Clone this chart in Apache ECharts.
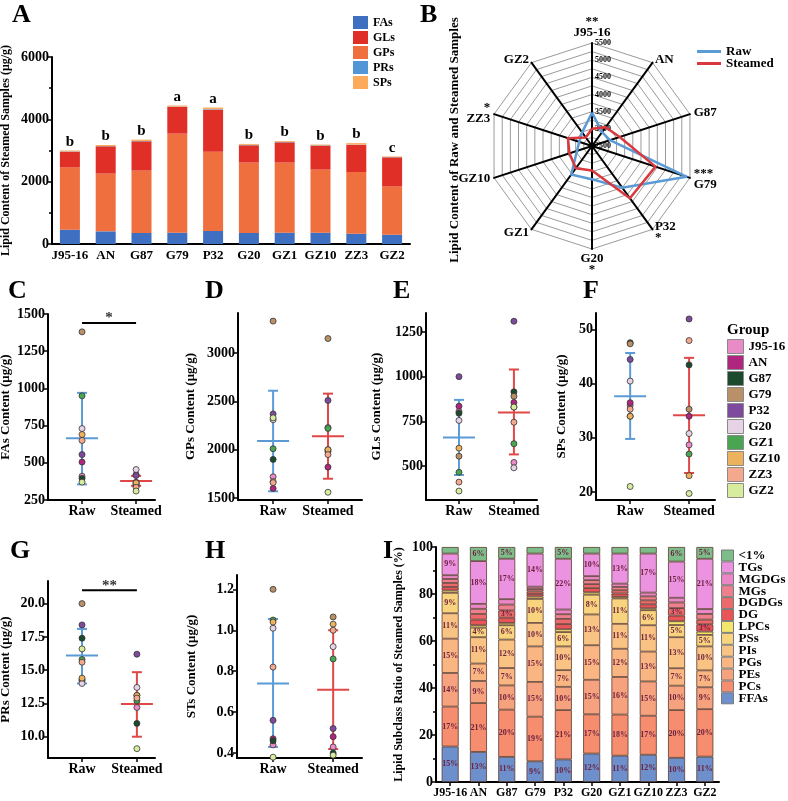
<!DOCTYPE html>
<html>
<head>
<meta charset="utf-8">
<title>Lipid content</title>
<script src="https://cdn.jsdelivr.net/npm/echarts@6/dist/echarts.min.js"></script>
<style>
  html, body { margin: 0; height: 100%; background: #fff; }
  #main { width: 788px; height: 801px; }
</style>
</head>
<body>
<div id="main"></div>
<script>
// ---- shared
var samples = ['J95-16', 'AN', 'G87', 'G79', 'P32', 'G20', 'GZ1', 'GZ10', 'ZZ3', 'GZ2'];
var groupColors = ['#E98BC6', '#B0267E', '#1C4A2C', '#B99068', '#7E4A9E', '#E6D3E6', '#4AA552', '#EDB25E', '#F4A98F', '#D8EC9E'];

// ---- A: steamed lipid content (ug/g)
var steamedFAs = [460, 406, 353, 364, 417, 353, 364, 364, 332, 300];
var steamedGPs = [2000, 1851, 2000, 3176, 2546, 2257, 2246, 2021, 1978, 1550];
var steamedGLs = [500, 877, 941, 856, 1347, 556, 652, 770, 866, 930];
var steamedPRs = [12, 8, 11, 13, 16, 14, 13, 13, 13, 9];
var steamedSPs = [29, 34, 44, 35, 52, 31, 27, 23, 48, 20];
var sigLetters = ['b', 'b', 'b', 'a', 'a', 'b', 'b', 'b', 'b', 'c'];

// ---- B: radar, raw totals
var rawTotal = [3470, 3000, 3050, 5390, 4000, 3470, 3530, 2960, 2890, 2990];
var radarLabels = ['**\nJ95-16', 'AN', 'G87', '***\nG79', 'P32\n*', 'G20\n*', 'GZ1', 'GZ10', '*\nZZ3', 'GZ2'];
var radarOrder = [0, 9, 8, 7, 6, 5, 4, 3, 2, 1];

// ---- C..H: per sample raw / steamed, stats = [mean, low, high]
var fasRaw = [410, 505, 395, 1380, 555, 730, 950, 690, 650, 370];
var fasSteamed = [370, 420, 355, 345, 415, 455, 360, 365, 335, 310];
var fasStats = [[665, 355, 970], [378, 345, 412]];
var fasTicks = [250, 500, 750, 1000, 1250, 1500];
var fasSig = [1440, '*'];

var gpsRaw = [1720, 1600, 1900, 3330, 2370, 2310, 2010, 1670, 1660, 2330];
var gpsSteamed = [2000, 1820, 1980, 3150, 2510, 2230, 2220, 2000, 1950, 1560];
var gpsStats = [[2090, 1570, 2610], [2140, 1700, 2580]];
var gpsTicks = [1500, 2000, 2500, 3000];

var glsRaw = [805, 835, 795, 555, 1000, 755, 465, 600, 410, 360];
var glsSteamed = [520, 855, 915, 890, 1310, 490, 625, 830, 745, 830];
var glsStats = [[660, 450, 870], [800, 565, 1040]];
var glsTicks = [500, 750, 1000, 1250];

var spsRaw = [36.0, 36.5, 47.6, 47.4, 44.5, 40.5, 34.0, 34.0, 35.3, 21.0];
var spsSteamed = [28.7, 34.0, 43.5, 35.3, 52.0, 30.8, 27.0, 23.0, 48.0, 19.7];
var spsStats = [[37.7, 29.8, 45.7], [34.2, 23.5, 44.8]];
var spsTicks = [20, 30, 40, 50];

var prsRaw = [14.2, 14.3, 17.4, 20.0, 18.4, 14.0, 15.8, 14.4, 15.6, 16.6];
var prsSteamed = [12.2, 8.3, 11.0, 13.1, 16.2, 13.7, 12.7, 13.1, 12.9, 9.1];
var prsStats = [[16.1, 14.0, 18.1], [12.45, 10.0, 14.85]];
var prsTicks = [10, 12.5, 15, 17.5, 20];
var prsSig = [21.0, '**'];

var stsRaw = [0.44, 0.47, 0.46, 1.20, 0.56, 1.01, 1.05, 1.04, 0.82, 0.38];
var stsSteamed = [0.43, 0.48, 0.40, 1.065, 0.52, 0.92, 0.86, 1.03, 1.00, 0.39];
var stsStats = [[0.74, 0.43, 1.055], [0.71, 0.42, 1.0]];
var stsTicks = [0.4, 0.6, 0.8, 1.0, 1.2];

// ---- I: subclass ratio (%) of steamed samples
var subclassNames = ['FFAs', 'PCs', 'PEs', 'PGs', 'PIs', 'PSs', 'LPCs', 'DG', 'DGDGs', 'MGs', 'MGDGs', 'TGs', '<1%'];
var subclassColors = ['#6D8FCB', '#F58D6E', '#F7A27E', '#F9B683', '#F9C483', '#F8D47E', '#F4E56C', '#E95459', '#EC6A6C', '#EE7F8F', '#EB87C6', '#EB93E0', '#7DBD8A'];
var ratioFFAs = [15.1, 12.8, 10.7, 8.8, 9.6, 12.1, 11.2, 11.6, 10.3, 10.8];
var ratioPCs = [17.0, 20.8, 20.1, 19.0, 21.0, 16.7, 17.5, 16.6, 20.3, 20.2];
var ratioPEs = [14.3, 9.4, 10.3, 14.8, 9.9, 14.7, 16.0, 14.6, 10.4, 9.3];
var ratioPGs = [14.6, 7.4, 7.4, 15.1, 7.1, 14.7, 12.0, 12.7, 7.4, 7.2];
var ratioPIs = [10.8, 11.2, 12.1, 10.0, 10.1, 13.1, 10.6, 11.2, 13.2, 10.2];
var ratioPSs = [8.7, 4.1, 6.1, 10.2, 6.1, 8.4, 10.8, 6.4, 5.2, 4.9];
var ratioLPCs = [1.0, 1.0, 1.0, 1.0, 1.2, 1.0, 0.7, 0.8, 1.6, 1.4];
var ratioDG = [1.5, 2.4, 2.2, 1.1, 2.2, 1.8, 1.4, 1.7, 2.4, 3.1];
var ratioDGDGs = [1.7, 2.4, 3.1, 1.1, 2.2, 1.7, 1.4, 1.7, 3.2, 2.0];
var ratioMGs = [1.7, 2.2, 2.5, 1.0, 2.0, 1.7, 1.4, 1.7, 2.4, 2.4];
var ratioMGDGs = [1.6, 2.1, 2.3, 1.0, 2.0, 1.7, 1.4, 1.6, 2.0, 2.1];
var ratioTGs = [9.2, 18.2, 17.2, 14.1, 21.6, 9.6, 12.8, 16.6, 15.4, 21.4];
var ratioOther = [2.8, 6.0, 5.0, 2.8, 5.0, 2.8, 2.8, 2.8, 6.2, 5.0];
var ratios = [ratioFFAs, ratioPCs, ratioPEs, ratioPGs, ratioPIs, ratioPSs, ratioLPCs, ratioDG, ratioDGDGs, ratioMGs, ratioMGDGs, ratioTGs, ratioOther];

var FONT = 'Liberation Serif';
var RAW_C = '#5B9BD5', ST_C = '#E04848';
function txt(size, extra) {
	var s = {fontFamily: FONT, fontWeight: 'bold', fontSize: size, color: '#000'};
	for (var k in extra) s[k] = extra[k];
	return s;
}
function plain(v) { return String(v); }

var grids = [], xAxes = [], yAxes = [], series = [];

// ---------- A
grids.push({left: 52, top: 57, width: 358, height: 187, outerBoundsMode: 'none'});
xAxes.push({
	gridIndex: 0, type: 'category', data: samples,
	axisLine: {onZero: false, lineStyle: {color: '#000', width: 2}},
	axisTick: {show: false},
	axisLabel: txt(13, {interval: 0, margin: 5})
});
yAxes.push({
	gridIndex: 0, type: 'value', min: 0, max: 6000, interval: 2000,
	name: 'Lipid Content of Steamed Samples (μg/g)', nameLocation: 'middle', nameGap: 40,
	nameTextStyle: txt(12),
	axisLine: {show: true, onZero: false, lineStyle: {color: '#000', width: 2}},
	axisTick: {show: true, length: 5, lineStyle: {color: '#000', width: 1.5}},
	minorTick: {show: true, splitNumber: 2, length: 3, lineStyle: {color: '#000', width: 1.5}},
	splitLine: {show: false},
	axisLabel: txt(14, {margin: 3, formatter: plain})
});
var aSeries = [
	['FAs', steamedFAs, '#3F6FC0'],
	['GPs', steamedGPs, '#EF6F3F'],
	['GLs', steamedGLs, '#E02F26'],
	['PRs', steamedPRs, '#5296D5'],
	['SPs', steamedSPs, '#FDAA5B']
];
aSeries.forEach(function (d, i) {
	var s = {
		name: d[0], type: 'bar', stack: 'A', xAxisIndex: 0, yAxisIndex: 0,
		data: d[1], barWidth: 20, itemStyle: {color: d[2]}
	};
	if (i === aSeries.length - 1) {
		s.label = {show: true, position: 'top', distance: 1,
			formatter: function (p) { return sigLetters[p.dataIndex]; },
			fontFamily: FONT, fontWeight: 'bold', fontSize: 15, color: '#000'};
	}
	series.push(s);
});

// ---------- C..H dot plots
function meanSdItem(params, api) {
	var x = api.value(0);
	var c = api.coord([x, api.value(1)]);
	var lo = api.coord([x, api.value(2)]);
	var hi = api.coord([x, api.value(3)]);
	var st = {stroke: api.visual('color'), lineWidth: 2};
	return {type: 'group', children: [
		{type: 'line', shape: {x1: c[0] - 16, y1: c[1], x2: c[0] + 16, y2: c[1]}, style: st},
		{type: 'line', shape: {x1: c[0], y1: lo[1], x2: c[0], y2: hi[1]}, style: st},
		{type: 'line', shape: {x1: c[0] - 5, y1: lo[1], x2: c[0] + 5, y2: lo[1]}, style: st},
		{type: 'line', shape: {x1: c[0] - 5, y1: hi[1], x2: c[0] + 5, y2: hi[1]}, style: st}
	]};
}
function sigRenderer(label) {
	return function (params, api) {
		var a = api.coord([0, api.value(1)]);
		var b = api.coord([1, api.value(1)]);
		return {type: 'group', children: [
			{type: 'line', shape: {x1: a[0], y1: a[1], x2: b[0], y2: b[1]}, style: {stroke: '#000', lineWidth: 2}},
			{type: 'text', x: (a[0] + b[0]) / 2, y: a[1] + 3,
				style: {text: label, fill: '#333', font: 'bold 15px ' + FONT, textAlign: 'center', textVerticalAlign: 'bottom'}}
		]};
	};
}

var dotPanels = [
	{title: 'FAs Content (μg/g)', raw: fasRaw, st: fasSteamed, stats: fasStats, ticks: fasTicks, sig: fasSig, dec: 0,
		grid: {left: 48, top: 314, width: 107, height: 186}, y: [250, 1500], x: [-0.63, 1.35], gap: 36},
	{title: 'GPs Content (μg/g)', raw: gpsRaw, st: gpsSteamed, stats: gpsStats, ticks: gpsTicks, dec: 0,
		grid: {left: 238, top: 313, width: 124, height: 187}, y: [1480, 3414], x: [-0.64, 1.62], gap: 41},
	{title: 'GLs Content (μg/g)', raw: glsRaw, st: glsSteamed, stats: glsStats, ticks: glsTicks, dec: 0,
		grid: {left: 426, top: 313, width: 111, height: 187}, y: [310, 1356], x: [-0.6, 1.42], gap: 43},
	{title: 'SPs Content (μg/g)', raw: spsRaw, st: spsSteamed, stats: spsStats, ticks: spsTicks, dec: 0,
		grid: {left: 596, top: 313, width: 119, height: 187}, y: [18.5, 53.1], x: [-0.58, 1.44], gap: 28},
	{title: 'PRs Content (μg/g)', raw: prsRaw, st: prsSteamed, stats: prsStats, ticks: prsTicks, sig: prsSig, dec: 1,
		grid: {left: 48, top: 581, width: 107, height: 177}, y: [8.4, 21.7], x: [-0.62, 1.33], gap: 36},
	{title: 'STs Content (μg/g)', raw: stsRaw, st: stsSteamed, stats: stsStats, ticks: stsTicks, dec: 1,
		grid: {left: 237, top: 575, width: 125, height: 183}, y: [0.376, 1.27], x: [-0.6, 1.48], gap: 39}
];

dotPanels.forEach(function (p) {
	var gi = grids.length;
	var g = p.grid; g.outerBoundsMode = 'none';
	grids.push(g);
	xAxes.push({
		gridIndex: gi, type: 'value', min: p.x[0], max: p.x[1],
		axisLine: {show: true, onZero: false, lineStyle: {color: '#000', width: 2}},
		axisTick: {show: true, customValues: [0, 1], length: 4, lineStyle: {color: '#000', width: 1.5}},
		splitLine: {show: false},
		axisLabel: txt(14, {customValues: [0, 1], margin: 4,
			formatter: function (v) { return v < 0.5 ? 'Raw' : 'Steamed'; }})
	});
	yAxes.push({
		gridIndex: gi, type: 'value', min: p.y[0], max: p.y[1],
		name: p.title, nameLocation: 'middle', nameGap: p.gap, nameTextStyle: txt(13),
		axisLine: {show: true, onZero: false, lineStyle: {color: '#000', width: 2}},
		axisTick: {show: true, customValues: p.ticks, length: 4, lineStyle: {color: '#000', width: 1.5}},
		splitLine: {show: false},
		axisLabel: txt(14, {customValues: p.ticks, margin: 3,
			formatter: function (v) { return v.toFixed(p.dec); }})
	});
	series.push({
		type: 'custom', xAxisIndex: gi, yAxisIndex: gi, renderItem: meanSdItem, clip: false, z: 2,
		data: [
			{value: [0].concat(p.stats[0]), itemStyle: {color: RAW_C}},
			{value: [1].concat(p.stats[1]), itemStyle: {color: ST_C}}
		]
	});
	if (p.sig) {
		series.push({
			type: 'custom', xAxisIndex: gi, yAxisIndex: gi, renderItem: sigRenderer(p.sig[1]), clip: false,
			data: [[0, p.sig[0]]]
		});
	}
	samples.forEach(function (name, k) {
		series.push({
			name: name, type: 'scatter', xAxisIndex: gi, yAxisIndex: gi, symbolSize: 6, z: 5,
			itemStyle: {color: groupColors[k], borderColor: '#333', borderWidth: 0.8, opacity: 1},
			data: [[0, p.raw[k]], [1, p.st[k]]]
		});
	});
});

// ---------- I
var gI = grids.length;
grids.push({left: 436, top: 547, width: 283, height: 235, outerBoundsMode: 'none'});
xAxes.push({
	gridIndex: gI, type: 'category', data: samples,
	axisLine: {onZero: false, lineStyle: {color: '#000', width: 2}},
	axisTick: {show: true, alignWithLabel: true, length: 4, lineStyle: {color: '#000', width: 1.5}},
	axisLabel: txt(12, {interval: 0, margin: 5})
});
yAxes.push({
	gridIndex: gI, type: 'value', min: 0, max: 100, interval: 20,
	name: 'Lipid Subclass Ratio of Steamed Samples (%)', nameLocation: 'middle', nameGap: 31,
	nameTextStyle: txt(12),
	axisLine: {show: true, onZero: false, lineStyle: {color: '#000', width: 2}},
	axisTick: {show: true, length: 5, lineStyle: {color: '#000', width: 1.5}},
	minorTick: {show: true, splitNumber: 2, length: 3, lineStyle: {color: '#000', width: 1.5}},
	splitLine: {show: false},
	axisLabel: txt(14, {margin: 3})
});
subclassNames.forEach(function (name, i) {
	series.push({
		name: name, type: 'bar', stack: 'I', xAxisIndex: gI, yAxisIndex: gI,
		data: ratios[i], barWidth: 17,
		itemStyle: {color: subclassColors[i], borderColor: '#5A3B2F', borderWidth: 0.8},
		label: {show: true, position: 'inside', fontFamily: FONT, fontWeight: 'bold', fontSize: 8, color: '#6D2140',
			formatter: function (p) { return p.value >= 2.95 ? Math.round(p.value) + '%' : ''; }}
	});
});

// ---------- B radar
var steamedTotal = samples.map(function (s, i) {
	return steamedFAs[i] + steamedGPs[i] + steamedGLs[i] + steamedPRs[i] + steamedSPs[i];
});
function reorder(arr) { return radarOrder.map(function (i) { return arr[i]; }); }
var indicators = radarOrder.map(function (i, k) {
	var ind = {name: radarLabels[i], min: 2500, max: 5500};
	if (k > 0) ind.axisLabel = {show: false};
	return ind;
});
series.push({
	type: 'radar', symbol: 'none',
	data: [
		{name: 'Raw', value: reorder(rawTotal), lineStyle: {color: RAW_C, width: 2.5}, itemStyle: {color: RAW_C}},
		{name: 'Steamed', value: reorder(steamedTotal), lineStyle: {color: '#D9393E', width: 2.5}, itemStyle: {color: '#D9393E'}}
	]
});

// ---------- labels
var letters = [['A', 12, 2], ['B', 420, 2], ['C', 8, 278], ['D', 205, 278], ['E', 393, 278], ['F', 583, 278], ['G', 10, 538], ['H', 205, 538], ['I', 383, 538]];
var graphics = letters.map(function (l) {
	return {type: 'text', left: l[1], top: l[2], style: {text: l[0], font: 'bold 26px ' + FONT, fill: '#000'}};
});
graphics.push({type: 'text', x: 455, y: 140, rotation: Math.PI / 2,
	style: {text: 'Lipid Content of Raw and Steamed Samples', font: 'bold 13px ' + FONT, fill: '#000', textAlign: 'center', textVerticalAlign: 'middle'}});
graphics.push({type: 'text', left: 727, top: 323, style: {text: 'Group', font: 'bold 15px ' + FONT, fill: '#000'}});

var chart = echarts.init(document.getElementById('main'));
var option = {
	animation: false,
	backgroundColor: '#fff',
	textStyle: {fontFamily: FONT},
	grid: grids,
	xAxis: xAxes,
	yAxis: yAxes,
	radar: {
		center: [592, 146], radius: 103, startAngle: 90, splitNumber: 12, shape: 'polygon',
		indicator: indicators,
		axisName: {color: '#000', fontFamily: FONT, fontWeight: 'bold', fontSize: 13, lineHeight: 11},
		nameGap: 4,
		axisLine: {lineStyle: {color: '#000', width: 2}},
		splitLine: {lineStyle: {color: '#9A9A9A', width: 1}},
		splitArea: {show: false},
		axisTick: {show: false},
		axisLabel: {show: true, fontFamily: FONT, fontWeight: 'bold', fontSize: 8, color: '#000', margin: -3, align: 'left',
			formatter: function (v) { return v % 500 === 0 ? String(v) : ''; }}
	},
	legend: [
		{data: ['FAs', 'GLs', 'GPs', 'PRs', 'SPs'], orient: 'vertical', left: 353, top: 16, padding: 0,
			icon: 'rect', itemWidth: 15, itemHeight: 13, itemGap: 2, textStyle: txt(12, {lineHeight: 13})},
		{data: ['Raw', 'Steamed'], orient: 'vertical', left: 697, top: 45, padding: 0,
			icon: 'rect', itemWidth: 24, itemHeight: 3, itemGap: -1, textStyle: txt(13, {lineHeight: 12})},
		{data: samples, orient: 'vertical', left: 727, top: 339, padding: 0,
			icon: 'rect', itemWidth: 16, itemHeight: 14, itemGap: 1,
			itemStyle: {borderColor: '#8A8A8A', borderWidth: 1},
			textStyle: txt(13, {lineHeight: 14})},
		{data: subclassNames.slice().reverse(), orient: 'vertical', left: 721, top: 549, padding: 0,
			icon: 'rect', itemWidth: 12, itemHeight: 11, itemGap: -1.1,
			itemStyle: {borderColor: '#7A7A7A', borderWidth: 1},
			textStyle: txt(13, {lineHeight: 11})}
	],
	graphic: graphics,
	series: series
};
chart.setOption(option);
</script>
</body>
</html>
